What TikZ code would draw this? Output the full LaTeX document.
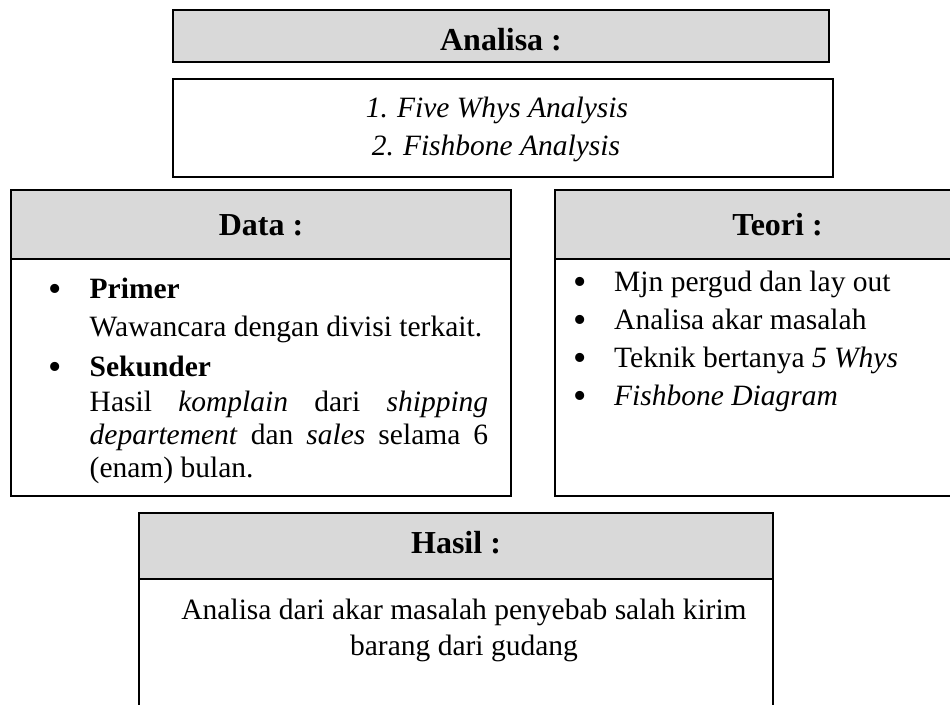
\documentclass[tikz,border=0pt]{standalone}
\usepackage{fontspec}
\setmainfont{Liberation Serif}
\definecolor{headgrey}{HTML}{D9D9D9}
\newcommand\mybodyfont{\fontsize{29.5}{34}\selectfont}
\newcommand\mytitlefont{\fontsize{32}{38}\selectfont\bfseries}
\newcommand\mybulfont{\fontsize{38}{40}\selectfont}
\tikzset{
  framebox/.style={draw=black, line width=1.8pt, fill=white, inner sep=0pt, outer sep=0pt, rectangle},
  headbox/.style={draw=black, line width=1.8pt, fill=headgrey, inner sep=0pt, outer sep=0pt, rectangle},
  ttl/.style={font=\mytitlefont, anchor=base, inner sep=0pt},
  txt/.style={font=\mybodyfont, anchor=base west, inner sep=0pt},
  ctxt/.style={font=\mybodyfont, anchor=base, inner sep=0pt},
  bul/.style={font=\mybulfont, anchor=base, inner sep=0pt, yshift=-3pt},
}
\begin{document}
\begin{tikzpicture}[x=1pt,y=-1pt]
\useasboundingbox (0,0) rectangle (950,704);
\clip (0,0) rectangle (950,704);
% Analisa
\node[headbox, minimum width=656pt, minimum height=52pt] (anHead) at (501,36) {};
\node[ttl] (anTitle) at (501,50) {Analisa :};
\node[framebox, minimum width=660pt, minimum height=98pt] (anList) at (503,128) {};
\node[ctxt] (anI1) at (497,117) {\textit{1.\hspace{9pt}Five Whys Analysis}};
\node[ctxt] (anI2) at (496,155) {\textit{2.\hspace{9pt}Fishbone Analysis}};
% Data
\node[framebox, minimum width=500pt, minimum height=237pt] (dataBody) at (261,377.5) {};
\node[headbox, minimum width=500pt, minimum height=69pt] (dataHead) at (261,224.5) {};
\node[ttl] (dataTitle) at (261,235) {Data :};
\node[bul] (db1) at (55.5,298) {•};
\node[txt] (dt1) at (89.5,298) {\textbf{Primer}};
\node[txt] (dt2) at (89.5,336) {Wawancara dengan divisi terkait.};
\node[bul] (db2) at (55.5,376) {•};
\node[txt] (dt3) at (89.5,376) {\textbf{Sekunder}};
\node[txt] (dt4) at (89.5,411) {\makebox[398.5pt][s]{Hasil \textit{komplain} dari \textit{shipping}}};
\node[txt] (dt5) at (89.5,444) {\makebox[398.5pt][s]{\textit{departement} dan \textit{sales} selama 6}};
\node[txt] (dt6) at (89.5,477) {(enam) bulan.};
% Teori
\node[framebox, minimum width=445pt, minimum height=237pt] (teoBody) at (777.5,377.5) {};
\node[headbox, minimum width=445pt, minimum height=69pt] (teoHead) at (777.5,224.5) {};
\node[ttl] (teoTitle) at (777.5,235) {Teori :};
\node[bul] (tb1) at (580,291) {•};
\node[txt] (tt1) at (614,291) {Mjn pergud dan lay out};
\node[bul] (tb2) at (580,329) {•};
\node[txt] (tt2) at (614,329) {Analisa akar masalah};
\node[bul] (tb3) at (580,367) {•};
\node[txt] (tt3) at (614,367) {Teknik bertanya \textit{5 Whys}};
\node[bul] (tb4) at (580,405) {•};
\node[txt] (tt4) at (614,405) {\textit{Fishbone Diagram}};
% Hasil
\node[framebox, minimum width=634pt, minimum height=151pt] (hasBody) at (456,654.5) {};
\node[headbox, minimum width=634pt, minimum height=66pt] (hasHead) at (456,546) {};
\node[ttl] (hasTitle) at (456,553) {Hasil :};
\node[ctxt] (hasL1) at (464,619) {Analisa dari akar masalah penyebab salah kirim};
\node[ctxt] (hasL2) at (464,655) {barang dari gudang};
\end{tikzpicture}
\end{document}
